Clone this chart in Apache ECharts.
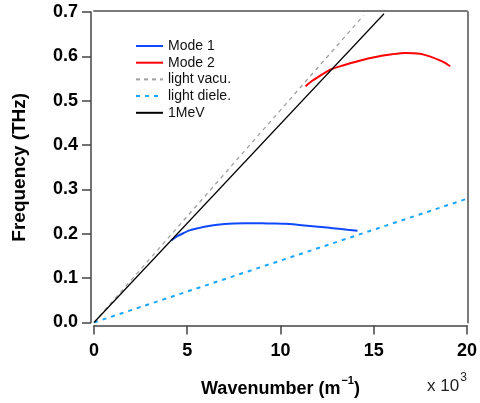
<!DOCTYPE html>
<html>
<head>
<meta charset="utf-8">
<script src="https://cdn.jsdelivr.net/npm/echarts@6/dist/echarts.min.js"></script>
<style>
  html, body { margin: 0; padding: 0; background: #fff; }
  #chart { width: 480px; height: 403px; }
</style>
</head>
<body>
<div id="chart"></div>
<script>
// Dispersion curves: wavenumber (x 10^3 m^-1) vs frequency (THz)
const mode1 = [
  [4.14, 0.185], [4.4, 0.193], [4.8, 0.2015], [5.12, 0.2077], [5.5, 0.2118],
  [6.0, 0.2166], [6.5, 0.2200], [7.0, 0.2222], [7.5, 0.2232], [8.1, 0.2235],
  [9.0, 0.2235], [9.6, 0.2232], [10.27, 0.2226], [11.0, 0.2200],
  [11.87, 0.2166], [12.5, 0.2140], [13.12, 0.2114], [13.6, 0.2092], [14.13, 0.207]
];
const mode2 = [
  [11.34, 0.5327], [11.7, 0.545], [12.0, 0.553], [12.67, 0.570], [13.3, 0.579],
  [14.0, 0.5874], [14.7, 0.595], [15.43, 0.6016], [16.0, 0.605], [16.67, 0.6076],
  [17.47, 0.606], [18.0, 0.600], [18.45, 0.5926], [18.8, 0.586], [19.1, 0.5776]
];
const lightVacuum = [[0, 0], [14.45, 0.692]];
const lightDielectric = [[0, 0], [20, 0.279]];
const beam1MeV = [[0, 0], [15.55, 0.696]];

const xTicks = { min: 0, max: 20, step: 5 };
const yTicks = { min: 0, max: 0.7, step: 0.1 };

const font = '"Liberation Sans", Arial, sans-serif';
const axisColor = '#444';
const frameColor = '#7a7a7a';

const chart = echarts.init(document.getElementById('chart'), null, { renderer: 'canvas' });

function line(name, data, color, width, type) {
  return {
    name, type: 'line', data, symbol: 'none', showSymbol: false,
    smooth: type === 'solid' && data.length > 2 ? 0.2 : false,
    lineStyle: { color, width, type },
    itemStyle: { color },
    animation: false
  };
}

chart.setOption({
  backgroundColor: '#fff',
  animation: false,
  grid: { left: 94, right: 10, top: 12, bottom: 79 },
  legend: {
    orient: 'vertical', left: 130, top: 34,
    itemWidth: 27, itemHeight: 14, itemGap: 2.7,
    itemStyle: { opacity: 0 },
    textStyle: { fontFamily: font, fontSize: 14, color: '#111' },
    data: ['Mode 1', 'Mode 2', 'light vacu.', 'light diele.', '1MeV']
  },
  xAxis: [{
    type: 'value', min: xTicks.min, max: xTicks.max, interval: xTicks.step,
    offset: 3,
    name: 'Wavenumber (m{sup|−1})', nameLocation: 'middle', nameGap: 50,
    nameTextStyle: {
      fontFamily: font, fontSize: 18, fontWeight: 'bold', color: '#000',
      rich: { sup: { fontFamily: font, fontSize: 11, fontWeight: 'bold', color: '#000', padding: [0, 0, 16, 1] } }
    },
    axisLine: { onZero: false, lineStyle: { color: axisColor, width: 1.5 } },
    axisTick: { length: 9, lineStyle: { color: axisColor, width: 1.5 } },
    axisLabel: { margin: 17, fontFamily: font, fontSize: 18, fontWeight: 'bold', color: '#000' },
    splitLine: { show: false }
  }, {
    type: 'value', position: 'top', min: xTicks.min, max: xTicks.max, offset: 1,
    axisLine: { show: true, onZero: false, lineStyle: { color: frameColor, width: 2 } },
    axisTick: { show: false }, axisLabel: { show: false }, splitLine: { show: false }
  }],
  yAxis: [{
    type: 'value', min: yTicks.min, max: yTicks.max, interval: yTicks.step,
    offset: 3,
    name: 'Frequency (THz)', nameLocation: 'middle', nameGap: 62,
    nameTextStyle: { fontFamily: font, fontSize: 19, fontWeight: 'bold', color: '#000' },
    axisLine: { show: true, onZero: false, lineStyle: { color: axisColor, width: 1.5 } },
    axisTick: { show: true, length: 9, lineStyle: { color: axisColor, width: 1.5 } },
    axisLabel: {
      margin: 13, fontFamily: font, fontSize: 18, fontWeight: 'bold', color: '#000',
      formatter: v => v.toFixed(1)
    },
    splitLine: { show: false }
  }, {
    type: 'value', position: 'right', min: yTicks.min, max: yTicks.max, offset: 1,
    axisLine: { show: true, onZero: false, lineStyle: { color: frameColor, width: 2 } },
    axisTick: { show: false }, axisLabel: { show: false }, splitLine: { show: false }
  }],
  graphic: [{
    type: 'text', left: 427, top: 372,
    style: {
      text: 'x 10{s|3}',
      fontFamily: font, fontSize: 17, fill: '#222',
      rich: { s: { fontFamily: font, fontSize: 12, fill: '#222', padding: [0, 0, 16, 1] } }
    }
  }],
  series: [
    line('Mode 1', mode1, '#1048ff', 2, 'solid'),
    line('Mode 2', mode2, '#ff0000', 2, 'solid'),
    line('light vacu.', lightVacuum, '#a0a0a0', 1.3, [4, 4]),
    line('light diele.', lightDielectric, '#1aa6ff', 2, [4, 5]),
    line('1MeV', beam1MeV, '#000000', 1.2, 'solid')
  ]
});
</script>
</body>
</html>
